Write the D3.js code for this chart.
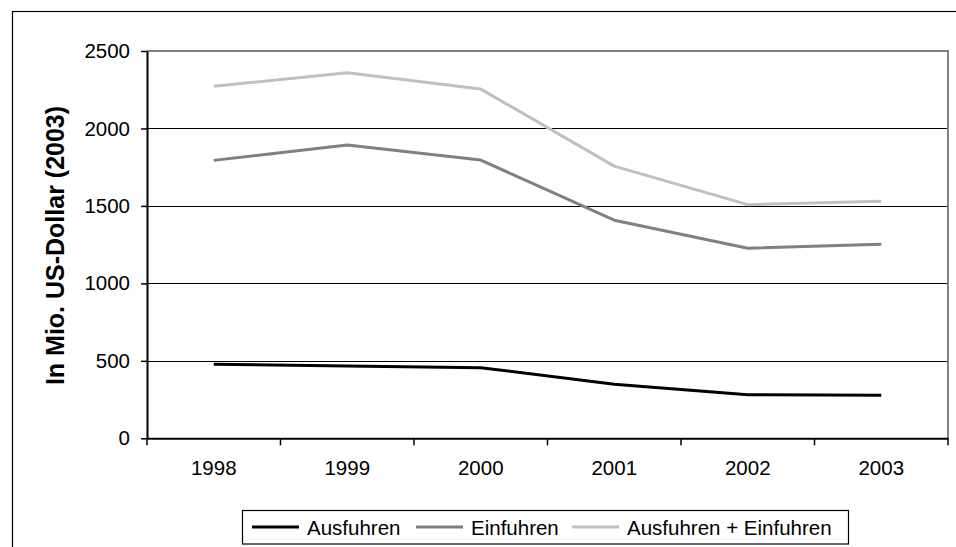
<!DOCTYPE html>
<html>
<head>
<meta charset="utf-8">
<script src="https://cdn.jsdelivr.net/npm/d3@7"></script>
<style>
  html, body { margin: 0; padding: 0; background: #fff; }
  svg { display: block; }
  text { font-family: "Liberation Sans", Arial, sans-serif; }
</style>
</head>
<body>
<svg id="chart" width="956" height="547"></svg>
<script>
const years = ["1998", "1999", "2000", "2001", "2002", "2003"];
const ausfuhren = [478, 467, 456, 349, 281, 278];
const einfuhren = [1794, 1893, 1796, 1408, 1227, 1252];
const gesamt = [2272, 2360, 2254, 1757, 1508, 1530];
const yTicks = [0, 500, 1000, 1500, 2000, 2500];
const seriesNames = ["Ausfuhren", "Einfuhren", "Ausfuhren + Einfuhren"];
const seriesColors = ["#000000", "#808080", "#c0c0c0"];
const yTitle = "In Mio. US-Dollar (2003)";

const series = [ausfuhren, einfuhren, gesamt];

const svg = d3.select("#chart");

// outer frame
svg.append("rect")
  .attr("x", 12.5).attr("y", 11.5)
  .attr("width", 1100).attr("height", 1100)
  .attr("fill", "none").attr("stroke", "#000").attr("stroke-width", 1.2);

const L = 147, R = 948, T = 51, B = 438.3;

const x = d3.scaleBand().domain(years).range([L, R]).padding(0);
const y = d3.scaleLinear().domain([0, 2500]).range([B, T]);

// gridlines
svg.append("g").selectAll("line")
  .data(yTicks.filter(d => d > 0 && d < 2500))
  .join("line")
  .attr("x1", L).attr("x2", R)
  .attr("y1", d => Math.round(y(d)) + 0.5).attr("y2", d => Math.round(y(d)) + 0.5)
  .attr("stroke", "#000").attr("stroke-width", 1);

// plot border top & right (gray)
svg.append("line")
  .attr("x1", L).attr("x2", R).attr("y1", y(2500)).attr("y2", y(2500))
  .attr("stroke", "#808080").attr("stroke-width", 2);
svg.append("line")
  .attr("x1", R).attr("x2", R).attr("y1", y(2500) - 1).attr("y2", B)
  .attr("stroke", "#808080").attr("stroke-width", 2);

// Y axis
const yAxis = svg.append("g")
  .attr("transform", `translate(${L},0)`)
  .call(d3.axisLeft(y).tickValues(yTicks).tickFormat(d3.format("d"))
    .tickSize(6).tickSizeOuter(0).tickPadding(11));
yAxis.select(".domain").attr("stroke", "#000").attr("stroke-width", 2);
yAxis.selectAll(".tick line").attr("stroke", "#000").attr("stroke-width", 1.5);
yAxis.selectAll(".tick text")
  .attr("font-size", "20.5px").attr("fill", "#000")
  .style("font-family", '"Liberation Sans", Arial, sans-serif');

// X axis
const xAxis = svg.append("g")
  .attr("transform", `translate(0,${B})`)
  .call(d3.axisBottom(x).tickSize(0).tickSizeOuter(0).tickPadding(22));
xAxis.select(".domain").attr("stroke", "#000").attr("stroke-width", 2);
xAxis.selectAll(".tick text")
  .attr("font-size", "20.5px").attr("fill", "#000")
  .style("font-family", '"Liberation Sans", Arial, sans-serif');
const bounds = years.map(d => x(d)).concat([x.range()[1]]);
xAxis.append("g").selectAll("line")
  .data(bounds)
  .join("line")
  .attr("x1", d => d).attr("x2", d => d)
  .attr("y1", 0).attr("y2", 7)
  .attr("stroke", "#000").attr("stroke-width", 1.5);

// Lines
const lineGen = d3.line()
  .x((d, i) => x(years[i]) + x.bandwidth() / 2)
  .y(d => y(d));

svg.append("g").selectAll("path")
  .data(series.map((s, i) => ({ s, i })).reverse())
  .join("path")
  .attr("d", d => lineGen(d.s))
  .attr("fill", "none")
  .attr("stroke", d => seriesColors[d.i])
  .attr("stroke-width", 3)
  .attr("stroke-linejoin", "round");

// Y title
svg.append("text")
  .attr("transform", `translate(64,245.5) rotate(-90)`)
  .attr("text-anchor", "middle")
  .attr("font-size", "25px")
  .attr("font-weight", "bold")
  .attr("fill", "#000")
  .text(yTitle);

// Legend
const lg = svg.append("g");
lg.append("rect")
  .attr("x", 242.5).attr("y", 510.5).attr("width", 606).attr("height", 33.5)
  .attr("fill", "#fff").attr("stroke", "#000").attr("stroke-width", 1.2);
const legendX = [252, 416, 572];
const items = lg.selectAll("g.item")
  .data(seriesNames)
  .join("g").attr("class", "item")
  .attr("transform", (d, i) => `translate(${legendX[i]},527)`);
items.append("line")
  .attr("x1", 0).attr("x2", 47).attr("y1", 0).attr("y2", 0)
  .attr("stroke", (d, i) => seriesColors[i]).attr("stroke-width", 3);
items.append("text")
  .attr("x", 55).attr("y", 7.5)
  .attr("font-size", "20.5px").attr("fill", "#000")
  .text(d => d);
</script>
</body>
</html>
